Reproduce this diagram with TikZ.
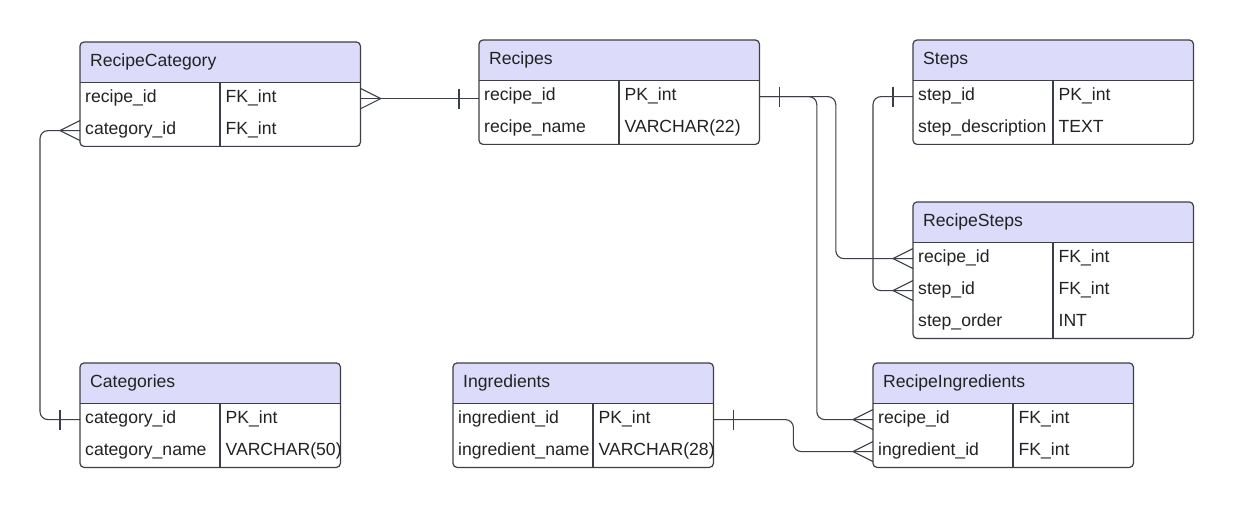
\documentclass[tikz,border=0pt]{standalone}
\usepackage{fontspec}
\setmainfont{Liberation Sans}
\usepackage{tikz}
\usetikzlibrary{calc}
\definecolor{ErHead}{HTML}{DCDCFA}
\definecolor{ErLine}{HTML}{3C3F46}
\definecolor{ErText}{HTML}{222222}
\hyphenpenalty=10000
\tikzset{
  every node/.style = {font=\fontsize{17.6}{21}\selectfont, text=ErText},
  tbl head/.style = {
    fill=ErHead,
    rounded corners=4pt,
    anchor=north west,
    minimum height=40pt,
    inner sep=0pt
  },
  tbl title/.style = {
    anchor=west,
    inner xsep=10pt,
    inner ysep=0pt,
    text height=12pt,
    text depth=4pt
  },
  tbl field/.style = {
    anchor=north west,
    minimum height=32pt,
    inner xsep=5pt,
    inner ysep=0pt,
    text width=130pt,
    align=left,
    text height=11.5pt,
    text depth=4.5pt
  },
  tbl rule/.style = {draw=ErLine, line width=1.1pt},
  tbl frame/.style = {draw=ErLine, line width=1.2pt, rounded corners=4pt},
  link/.style = {draw=ErLine, line width=1.1pt},
  crowfoot/.pic = {\draw[link] (0,-10) -- (20,0) -- (0,10);},
  onebar/.pic = {\draw[link] (20,-10) -- (20,10);},
}
% one entity: name, x, y, type column width, rows, title, field/type list
\newcommand{\ertable}[7]{%
  \pgfmathsetmacro{\tblw}{#4+140}%
  \pgfmathsetmacro{\tbltw}{#4-10}%
  \node[tbl head, minimum width=\tblw pt] (#1) at (#2,#3) {};
  \fill[ErHead] (#1.west) rectangle (#1.south east);
  \node[tbl title] (#1-title) at (#1.west) {#6};
  \foreach \fld/\typ [count=\r] in {#7} {
    \node[tbl field] (#1-\r) at ($(#1.south west)+(0,{32*(\r-1)})$) {\fld};
    \node[tbl field, text width=\tbltw pt] (#1-\r-t) at (#1-\r.north east) {\typ};
  }
  \draw[tbl rule] (#1.south west) -- (#1.south east);
  \draw[tbl rule] ($(#1.south west)+(140,0)$) -- ++(0,{32*#5});
  \draw[tbl frame] (#1.north west) rectangle ($(#1.south east)+(0,{32*#5})$);
}

\begin{document}
\begin{tikzpicture}[x=1pt,y=-1pt]
  \fill[white] (0,0) rectangle (1234,508);
  \useasboundingbox (0,0) rectangle (1234,508);

  \ertable{rcat}{80}{42}{140}{2}{RecipeCategory}{recipe\_id/FK\_int, category\_id/FK\_int}
  \ertable{recipes}{479}{40}{140}{2}{Recipes}{recipe\_id/PK\_int, recipe\_name/VARCHAR(22)}
  \ertable{steps}{913}{40}{140}{2}{Steps}{step\_id/PK\_int, step\_description/TEXT}
  \ertable{rsteps}{913}{202}{140}{3}{RecipeSteps}{recipe\_id/FK\_int, step\_id/FK\_int, step\_order/INT}
  \ertable{cats}{80}{363}{120}{2}{Categories}{category\_id/PK\_int, category\_name/VARCHAR(50)}
  \ertable{ingr}{453}{363}{120}{2}{Ingredients}{ingredient\_id/PK\_int, ingredient\_name/VARCHAR(28)}
  \ertable{ringr}{873}{363}{120}{2}{RecipeIngredients}{recipe\_id/FK\_int, ingredient\_id/FK\_int}

  % relationships
  \draw[link] (rcat-1-t.east) -- (rcat-1-t.east -| recipes-1.west);
  \pic at (rcat-1-t.east) {crowfoot};
  \pic[xscale=-1] at (rcat-1-t.east -| recipes-1.west) {onebar};

  \draw[link, rounded corners=8pt] (rcat-2.west) -- ++(-40,0) |- (cats-1.west);
  \pic[xscale=-1] at (rcat-2.west) {crowfoot};
  \pic[xscale=-1] at (cats-1.west) {onebar};

  \draw[link, rounded corners=8pt] (recipes-1-t.east) -- ++(57,0) |- (ringr-1.west);
  \draw[link, rounded corners=8pt] (recipes-1-t.east) -- ++(76,0) |- (rsteps-1.west);
  \pic at (recipes-1-t.east) {onebar};
  \pic[xscale=-1] at (rsteps-1.west) {crowfoot};
  \pic[xscale=-1] at (ringr-1.west) {crowfoot};

  \draw[link, rounded corners=8pt] (steps-1.west) -- ++(-40,0) |- (rsteps-2.west);
  \pic[xscale=-1] at (steps-1.west) {onebar};
  \pic[xscale=-1] at (rsteps-2.west) {crowfoot};

  \draw[link, rounded corners=8pt] (ingr-1-t.east) -| ($(ingr-1-t.east)!0.5!(ringr-2.west)$) |- (ringr-2.west);
  \pic at (ingr-1-t.east) {onebar};
  \pic[xscale=-1] at (ringr-2.west) {crowfoot};
\end{tikzpicture}
\end{document}
